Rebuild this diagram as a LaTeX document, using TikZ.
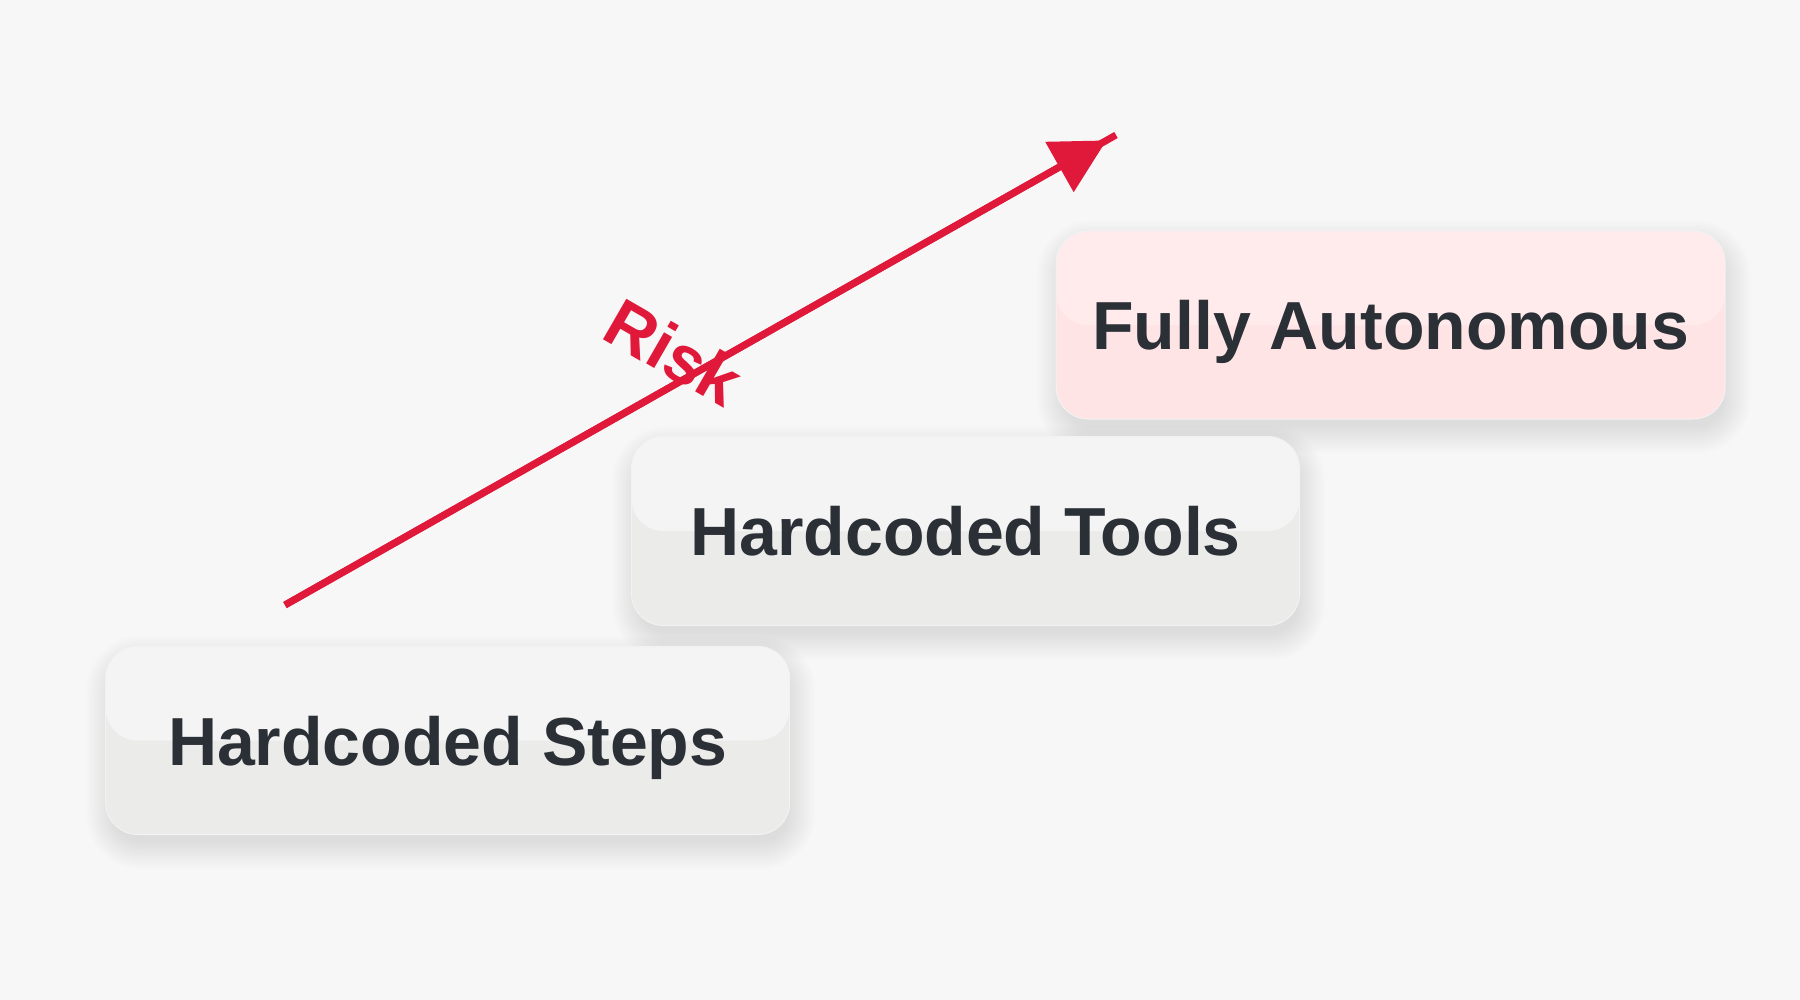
\documentclass[tikz,border=0pt]{standalone}
\usepackage{fontspec}
\setmainfont{Liberation Sans}
\usetikzlibrary{arrows.meta}
\definecolor{bgc}{HTML}{F7F7F7}
\definecolor{txt}{HTML}{2B2F36}
\definecolor{riskc}{HTML}{E0193A}
\definecolor{grayfill}{HTML}{EBEBE9}
\definecolor{grayhl}{HTML}{F4F4F4}
\definecolor{pinkfill}{HTML}{FFE4E6}
\definecolor{pinkhl}{HTML}{FFEAEC}
\newcommand{\stageshadow}[4]{%
  \foreach \k in {0,...,12}{%
    \pgfmathsetmacro{\ex}{\k*2.2-4}%
    \fill[black, opacity=0.009, rounded corners={32pt+\ex pt}]
      ({#1-#3/2-\ex+3},{#2-#4/2-\ex+12}) rectangle ({#1+#3/2+\ex+3},{#2+#4/2+\ex+12});
  }%
}
\begin{document}
\begin{tikzpicture}[x=1pt,y=-1pt,
  stage/.style={rounded corners=32pt, inner sep=0pt, draw=black!5, line width=1pt,
    font=\fontsize{68}{80}\selectfont\bfseries, text=txt, text height=49pt, text depth=0pt},
  graystage/.style={stage, fill=grayfill,
    path picture={\fill[grayhl, rounded corners=32pt] (path picture bounding box.north west) rectangle (path picture bounding box.east);}},
  pinkstage/.style={stage, fill=pinkfill,
    path picture={\fill[pinkhl, rounded corners=32pt] (path picture bounding box.north west) rectangle (path picture bounding box.east);}},
  riskline/.style={riskc, line width=7pt},
  risklabel/.style={font=\fontsize{68}{80}\selectfont\bfseries, text=riskc, inner sep=0pt}
]
\useasboundingbox[fill=bgc] (0,0) rectangle (1800,1000);

\stageshadow{447.7}{740.5}{684}{188}
\stageshadow{965.5}{531}{668}{189}
\stageshadow{1390.7}{325}{669}{188}

\node[graystage, minimum width=684pt, minimum height=188pt] (steps) at (447.7,740.5) {Hardcoded Steps};
\node[graystage, minimum width=668pt, minimum height=189pt] (tools) at (965.5,531) {Hardcoded Tools};
\node[pinkstage, minimum width=669pt, minimum height=188pt] (auto) at (1390.7,325) {Fully Autonomous};

\coordinate (rs) at (285,605);
\coordinate (re) at (1116,135);
\draw[riskline] (rs) -- (re);
\draw[riskline, -{Triangle[length=54pt,width=56pt]}, shorten >=11pt] (rs) -- (re);

\node[risklabel, rotate=-30, anchor=base] (risk) at (662,373) {Risk};
\end{tikzpicture}
\end{document}
